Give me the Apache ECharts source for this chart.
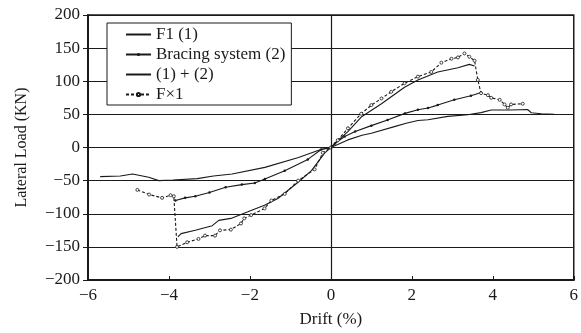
<!DOCTYPE html>
<html><head><meta charset="utf-8">
<script src="https://cdn.jsdelivr.net/npm/echarts@6/dist/echarts.min.js"></script>
<style>html,body{margin:0;padding:0;background:#fff}#c{width:581px;height:333px}</style>
</head><body><div id="c"></div>
<script>
var seriesNames = ['F1 (1)', 'Bracing system (2)', '(1) + (2)', 'F\u00d71'];
var xTicks = [-6, -4, -2, 0, 2, 4, 6];
var yTicks = [-200, -150, -100, -50, 0, 50, 100, 150, 200];

var f1Data = [[-5.7,-44],[-5.2,-43],[-4.9,-40],[-4.5,-45],[-4.25,-50],[-3.9,-49],[-3.3,-47],[-2.9,-43],[-2.44,-40],[-1.63,-30],[-0.8,-15],[-0.25,-3],
  [0,0],[0.42,11.5],[0.77,18.5],[1.0,21.5],[1.57,31.5],[1.86,36.5],[2.15,40.7],[2.4,42],[2.89,47],[3.38,49.5],[3.71,52.6],[3.96,56.5],[4.45,56.5],[4.86,57.4],[4.95,52.5],[5.2,51],[5.52,50]];
var bracingData = [[-3.84,-80],[-3.6,-76],[-3.35,-73.6],[-3.0,-68],[-2.6,-60],[-2.2,-56],[-1.88,-53.5],[-1.63,-47.5],[-1.14,-35],[-0.57,-18],[-0.24,-3],
  [0,0],[0.1,6],[0.34,16.5],[0.6,24],[1.0,33],[1.4,41.5],[1.83,51.5],[2.15,57],[2.4,59.5],[2.64,64],[3.05,72],[3.46,78],[3.71,83]];
var sumData = [[-3.78,-135],[-3.7,-130],[-3.35,-125],[-2.93,-118],[-2.77,-110],[-2.47,-107],[-2.05,-97],[-1.64,-87],[-1.31,-77],[-0.81,-52.5],[-0.48,-35],[-0.15,-8],
  [0,0],[0.2,12],[0.42,24],[0.75,46],[1.25,66],[1.82,91],[2.15,102],[2.64,114],[3.14,120.5],[3.42,125.5],[3.55,123]];
var fx1Data = [[-4.78,-64],[-4.49,-71],[-4.17,-76],[-3.96,-72],[-3.88,-73.6],[-3.8,-150],[-3.55,-143],[-3.27,-138],[-3.11,-133],[-2.86,-133],[-2.74,-125],[-2.47,-124],[-2.22,-114.6],[-2.14,-107],[-1.97,-102],[-1.64,-92],[-1.47,-80],[-1.14,-70],[-0.81,-50],[-0.4,-33],[-0.2,-8],
  [0,0],[0.17,11],[0.42,29],[0.75,51],[1.0,64],[1.25,74],[1.49,84],[1.82,97],[2.15,107],[2.48,114],[2.73,128],[2.98,134],[3.14,136],[3.3,142],[3.42,137],[3.55,131],[3.63,102],[3.71,82],[3.88,79],[3.96,75],[4.17,72],[4.29,65],[4.37,60],[4.45,65],[4.74,66]];

var ink = '#1a1a1a';
var font = 'Liberation Serif';
function minus(v){ return String(v).replace('-', '\u2212'); }

var chart = echarts.init(document.getElementById('c'), null, {renderer:'canvas'});
chart.setOption({
  backgroundColor: '#fff',
  animation: false,
  textStyle: {fontFamily: font, color: ink},
  grid: {left: 88, right: 4, top: 15, bottom: 50, show: true, borderColor: ink, borderWidth: 1.5, backgroundColor: 'transparent'},
  legend: {
    orient: 'vertical', left: 107, top: 23,
    data: [
      {name: seriesNames[0], itemStyle: {opacity: 0}},
      {name: seriesNames[1]},
      {name: seriesNames[2], itemStyle: {opacity: 0}},
      {name: seriesNames[3]}
    ],
    backgroundColor: '#fff', borderColor: ink, borderWidth: 1,
    padding: [3, 6, 2, 18], itemGap: 3, itemWidth: 25, itemHeight: 4,
    textStyle: {fontFamily: font, fontSize: 17, color: ink}
  },
  xAxis: {
    type: 'value', min: -6, max: 6, interval: 2,
    name: 'Drift (%)', nameLocation: 'middle', nameGap: 31,
    nameTextStyle: {fontFamily: font, fontSize: 17, color: ink},
    axisLine: {onZero: false, lineStyle: {color: ink, width: 2}},
    axisTick: {inside: true, length: 4, lineStyle: {color: ink}},
    axisLabel: {fontFamily: font, fontSize: 17, color: ink, margin: 7, formatter: function(v){ return xTicks.indexOf(v) >= 0 ? minus(v) : ''; }},
    splitLine: {show: false}
  },
  yAxis: {
    type: 'value', min: -200, max: 200, interval: 50,
    name: 'Lateral Load (KN)', nameLocation: 'middle', nameGap: 58,
    nameTextStyle: {fontFamily: font, fontSize: 16, color: ink},
    axisLine: {onZero: false, lineStyle: {color: ink, width: 2}},
    axisTick: {length: 5, lineStyle: {color: ink}},
    axisLabel: {fontFamily: font, fontSize: 17, color: ink, margin: 8, formatter: function(v){ return yTicks.indexOf(v) >= 0 ? minus(v) : ''; }},
    splitLine: {show: true, lineStyle: {color: ink, width: 1.2}}
  },
  series: [
    {name: seriesNames[0], type: 'line', data: f1Data, symbol: 'none',
     lineStyle: {color: ink, width: 1.1}, itemStyle: {color: ink},
     markLine: {silent: true, symbol: 'none', label: {show: false}, lineStyle: {color: ink, width: 1.2, type: 'solid'}, data: [{xAxis: 0}]}},
    {name: seriesNames[1], type: 'line', data: bracingData, symbol: 'circle', symbolSize: 2.5,
     lineStyle: {color: ink, width: 1.1}, itemStyle: {color: ink}},
    {name: seriesNames[2], type: 'line', data: sumData, symbol: 'none',
     lineStyle: {color: ink, width: 1.1}, itemStyle: {color: ink}},
    {name: seriesNames[3], type: 'line', data: fx1Data, symbol: 'circle', symbolSize: 3, showSymbol: true, z: 3,
     lineStyle: {color: ink, width: 1.1, type: [3, 2]}, itemStyle: {color: '#fff', borderColor: ink, borderWidth: 0.8}}
  ]
});
</script></body></html>
